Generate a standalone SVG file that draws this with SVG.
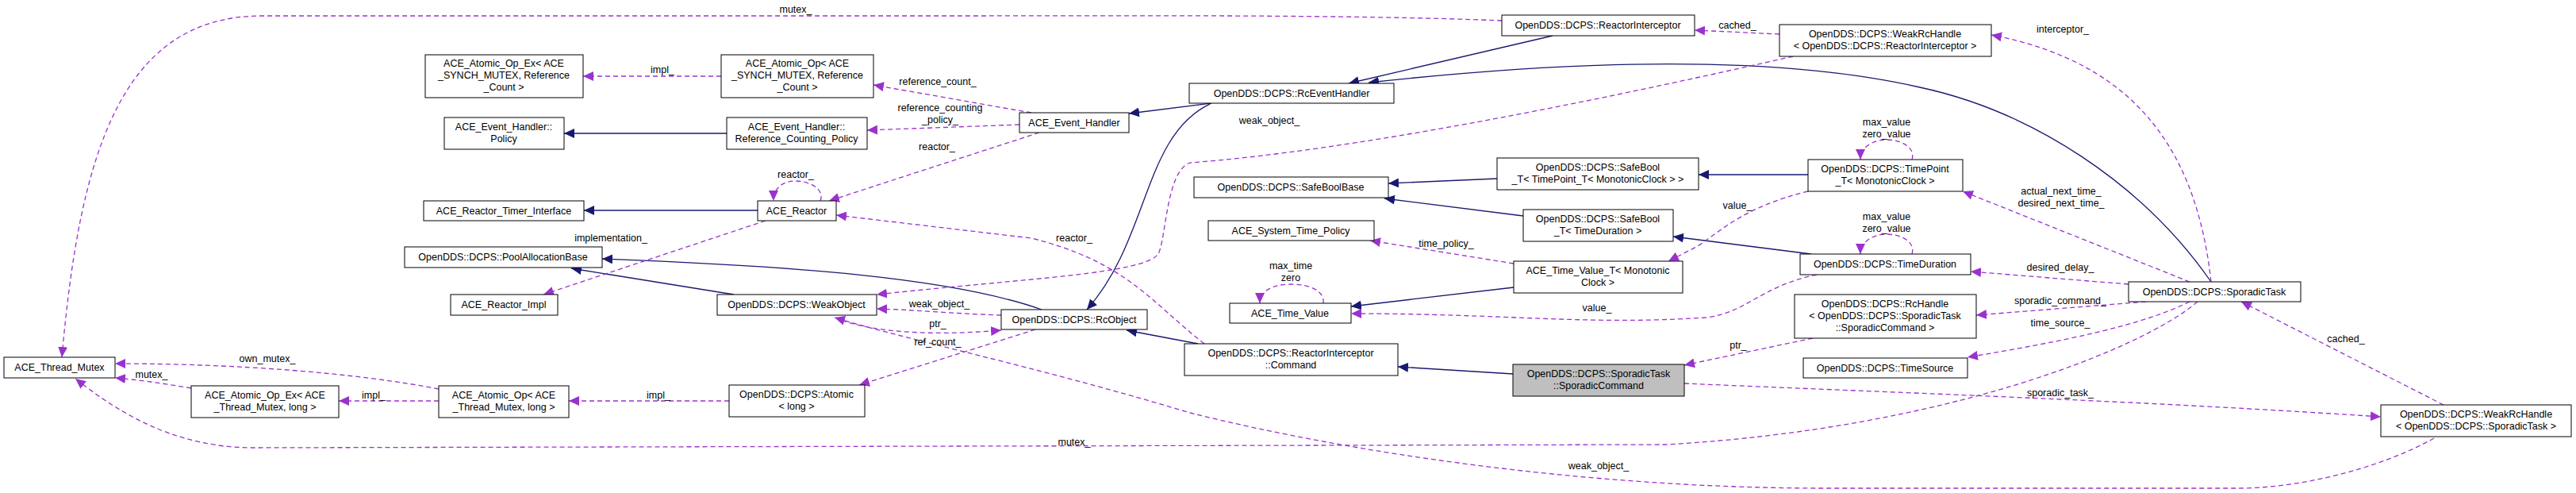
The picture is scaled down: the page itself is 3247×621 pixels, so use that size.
<svg xmlns="http://www.w3.org/2000/svg" width="3247" height="621" viewBox="0 0 3247 621">
<style>
text{font-family:"Liberation Sans",Arial,sans-serif;font-size:12.5px;fill:#000}
.n rect{fill:#fff;stroke:#000;stroke-width:1}
.n text{text-anchor:middle}
.g rect{fill:#bfbfbf}
.b{fill:none;stroke:#191970;stroke-width:1.3}
.p{fill:none;stroke:#9a32cd;stroke-width:1.3;stroke-dasharray:6,4}
.l{text-anchor:middle}
</style>
<defs>
<marker id="ab" markerUnits="userSpaceOnUse" markerWidth="14" markerHeight="12" refX="13" refY="6" orient="auto"><path d="M0,0 L13,6 L0,12 z" fill="#191970"/></marker>
<marker id="ap" markerUnits="userSpaceOnUse" markerWidth="14" markerHeight="12" refX="13" refY="6" orient="auto"><path d="M0,0 L13,6 L0,12 z" fill="#9a32cd"/></marker>
</defs>
<g id="connectors">
<g marker-end="url(#ab)">
<path class="b" d="M916,168 L711,168"/>
<path class="b" d="M955,265 L736,265"/>
<path class="b" d="M1527,130 L1423,143"/>
<path class="b" d="M1527,130 C1440,170 1450,300 1370,390"/>
<path class="b" d="M1957,45 L1700,105"/>
<path class="b" d="M2787,355 C2700,230 2560,140 2420,110 C2200,60 1900,85 1725,104"/>
<path class="b" d="M925,371 L720,338"/>
<path class="b" d="M1313,390 C1200,350 1000,335 759,326"/>
<path class="b" d="M1510,433 L1420,416"/>
<path class="b" d="M1887,225 L1750,231"/>
<path class="b" d="M1920,272 L1745,250"/>
<path class="b" d="M2279,220 L2141,220"/>
<path class="b" d="M2283,320 L2109,298"/>
<path class="b" d="M1908,362 L1703,386"/>
<path class="b" d="M1907,471 L1762,462"/>
</g>
<g marker-end="url(#ap)">
<path class="p" d="M1893,26 C1700,18 1400,20 1200,20 L330,20 C150,20 100,200 78,450"/>
<path class="p" d="M909,96 L735,96"/>
<path class="p" d="M1300,142 L1101,107"/>
<path class="p" d="M1285,157 L1093,164"/>
<path class="p" d="M1310,167 L1045,253"/>
<path class="p" d="M1034,253 C1040,238 1020,228 1003,228 C985,228 975,238 975,253"/>
<path class="p" d="M965,278 L685,371"/>
<path class="p" d="M1518,433 C1450,380 1420,330 1300,300 L1054,271"/>
<path class="p" d="M2260,71 C2000,130 1700,190 1500,205 C1470,215 1470,300 1460,320 C1440,345 1300,350 1105,371"/>
<path class="p" d="M1262,397 C1200,395 1150,390 1105,389"/>
<path class="p" d="M1052,400 C1100,420 1180,423 1262,416"/>
<path class="p" d="M1305,415 L1083,485"/>
<path class="p" d="M919,505 L717,505"/>
<path class="p" d="M553,505 L427,505"/>
<path class="p" d="M553,490 C450,470 300,458 145,458"/>
<path class="p" d="M241,489 C200,482 170,478 145,476"/>
<path class="p" d="M2770,380 C2700,440 2450,540 2100,560 L320,564 C220,564 150,520 95,477"/>
<path class="p" d="M2243,43 L2136,38"/>
<path class="p" d="M2787,355 C2770,200 2700,80 2510,44"/>
<path class="p" d="M2760,355 L2474,241"/>
<path class="p" d="M2410,201 C2415,185 2395,176 2378,176 C2360,176 2345,186 2345,201"/>
<path class="p" d="M2410,320 C2415,304 2395,295 2378,295 C2360,295 2345,305 2345,320"/>
<path class="p" d="M1668,382 C1670,366 1650,358 1627,358 C1605,358 1588,366 1588,382"/>
<path class="p" d="M2279,241 C2200,260 2170,290 2140,310 L2103,329"/>
<path class="p" d="M2290,346 C2220,360 2200,395 2150,400 C2000,410 1900,395 1703,395"/>
<path class="p" d="M1908,332 L1727,303"/>
<path class="p" d="M2683,358 L2484,342"/>
<path class="p" d="M2705,380 L2491,397"/>
<path class="p" d="M2760,380 C2700,410 2600,430 2480,450"/>
<path class="p" d="M2123,483 C2400,495 2700,505 3001,525"/>
<path class="p" d="M3080,510 L2825,380"/>
<path class="p" d="M2285,426 L2123,460"/>
<path class="p" d="M3068,552 C3000,590 2900,615 2820,615 L2300,615 C2000,615 1700,570 1500,520 C1300,460 1150,430 1052,400"/>
</g>
<text class="l" x="1003" y="16">mutex_</text>
<text class="l" x="835" y="92">impl_</text>
<text class="l" x="1182" y="107">reference_count_</text>
<text class="l" x="1185" y="140">reference_counting</text>
<text class="l" x="1185" y="155">_policy_</text>
<text class="l" x="1181" y="189">reactor_</text>
<text class="l" x="1003" y="224">reactor_</text>
<text class="l" x="770" y="304">implementation_</text>
<text class="l" x="1354" y="304">reactor_</text>
<text class="l" x="1600" y="156">weak_object_</text>
<text class="l" x="1184" y="387">weak_object_</text>
<text class="l" x="1182" y="412">ptr_</text>
<text class="l" x="1182" y="435">ref_count_</text>
<text class="l" x="830" y="502">impl_</text>
<text class="l" x="471" y="502">impl_</text>
<text class="l" x="337" y="456">own_mutex_</text>
<text class="l" x="191" y="476">mutex_</text>
<text class="l" x="1354" y="561">mutex_</text>
<text class="l" x="1627" y="339">max_time</text>
<text class="l" x="1627" y="354">zero</text>
<text class="l" x="2190" y="36">cached_</text>
<text class="l" x="2600" y="41">interceptor_</text>
<text class="l" x="2378" y="158">max_value</text>
<text class="l" x="2378" y="173">zero_value</text>
<text class="l" x="2378" y="277">max_value</text>
<text class="l" x="2378" y="292">zero_value</text>
<text class="l" x="2190" y="263">value_</text>
<text class="l" x="1823" y="311">time_policy_</text>
<text class="l" x="2013" y="392">value_</text>
<text class="l" x="2598" y="245">actual_next_time_</text>
<text class="l" x="2598" y="260">desired_next_time_</text>
<text class="l" x="2597" y="341">desired_delay_</text>
<text class="l" x="2597" y="383">sporadic_command_</text>
<text class="l" x="2597" y="411">time_source_</text>
<text class="l" x="2191" y="439">ptr_</text>
<text class="l" x="2597" y="499">sporadic_task_</text>
<text class="l" x="2957" y="431">cached_</text>
<text class="l" x="2015" y="591">weak_object_</text>
</g>
<g id="n1" class="n"><rect x="536" y="69" width="199" height="54"/><text x="635" y="84">ACE_Atomic_Op_Ex&lt; ACE</text><text x="635" y="99">_SYNCH_MUTEX, Reference</text><text x="635" y="114">_Count &gt;</text></g>
<g id="n2" class="n"><rect x="560" y="148" width="151" height="40"/><text x="635" y="164">ACE_Event_Handler::</text><text x="635" y="179">Policy</text></g>
<g id="n3" class="n"><rect x="534" y="253" width="202" height="25"/><text x="635" y="270">ACE_Reactor_Timer_Interface</text></g>
<g id="n4" class="n"><rect x="510" y="311" width="249" height="26"/><text x="634" y="328">OpenDDS::DCPS::PoolAllocationBase</text></g>
<g id="n5" class="n"><rect x="568" y="371" width="135" height="26"/><text x="635" y="388">ACE_Reactor_Impl</text></g>
<g id="n6" class="n"><rect x="5" y="450" width="140" height="26"/><text x="75" y="467">ACE_Thread_Mutex</text></g>
<g id="n7" class="n"><rect x="241" y="486" width="186" height="40"/><text x="334" y="502">ACE_Atomic_Op_Ex&lt; ACE</text><text x="334" y="517">_Thread_Mutex, long &gt;</text></g>
<g id="n8" class="n"><rect x="553" y="486" width="164" height="40"/><text x="635" y="502">ACE_Atomic_Op&lt; ACE</text><text x="635" y="517">_Thread_Mutex, long &gt;</text></g>
<g id="n9" class="n"><rect x="909" y="69" width="192" height="54"/><text x="1005" y="84">ACE_Atomic_Op&lt; ACE</text><text x="1005" y="99">_SYNCH_MUTEX, Reference</text><text x="1005" y="114">_Count &gt;</text></g>
<g id="n10" class="n"><rect x="916" y="148" width="177" height="40"/><text x="1004" y="164">ACE_Event_Handler::</text><text x="1004" y="179">Reference_Counting_Policy</text></g>
<g id="n11" class="n"><rect x="955" y="253" width="99" height="25"/><text x="1004" y="270">ACE_Reactor</text></g>
<g id="n12" class="n"><rect x="904" y="371" width="201" height="26"/><text x="1004" y="388">OpenDDS::DCPS::WeakObject</text></g>
<g id="n13" class="n"><rect x="919" y="485" width="171" height="40"/><text x="1004" y="501">OpenDDS::DCPS::Atomic</text><text x="1004" y="516">&lt; long &gt;</text></g>
<g id="n14" class="n"><rect x="1285" y="142" width="138" height="25"/><text x="1354" y="159">ACE_Event_Handler</text></g>
<g id="n15" class="n"><rect x="1262" y="390" width="184" height="25"/><text x="1354" y="407">OpenDDS::DCPS::RcObject</text></g>
<g id="n16" class="n"><rect x="1499" y="105" width="258" height="25"/><text x="1628" y="122">OpenDDS::DCPS::RcEventHandler</text></g>
<g id="n17" class="n"><rect x="1505" y="223" width="245" height="26"/><text x="1627" y="240">OpenDDS::DCPS::SafeBoolBase</text></g>
<g id="n18" class="n"><rect x="1523" y="278" width="209" height="25"/><text x="1627" y="295">ACE_System_Time_Policy</text></g>
<g id="n19" class="n"><rect x="1550" y="382" width="153" height="25"/><text x="1626" y="399">ACE_Time_Value</text></g>
<g id="n20" class="n"><rect x="1493" y="433" width="269" height="40"/><text x="1627" y="449">OpenDDS::DCPS::ReactorInterceptor</text><text x="1627" y="464">::Command</text></g>
<g id="n21" class="n"><rect x="1893" y="19" width="243" height="26"/><text x="2014" y="36">OpenDDS::DCPS::ReactorInterceptor</text></g>
<g id="n22" class="n"><rect x="1887" y="199" width="254" height="40"/><text x="2014" y="215">OpenDDS::DCPS::SafeBool</text><text x="2014" y="230">_T&lt; TimePoint_T&lt; MonotonicClock &gt; &gt;</text></g>
<g id="n23" class="n"><rect x="1920" y="264" width="189" height="40"/><text x="2014" y="280">OpenDDS::DCPS::SafeBool</text><text x="2014" y="295">_T&lt; TimeDuration &gt;</text></g>
<g id="n24" class="n"><rect x="1908" y="329" width="213" height="40"/><text x="2014" y="345">ACE_Time_Value_T&lt; Monotonic</text><text x="2014" y="360">Clock &gt;</text></g>
<g id="n25" class="n g"><rect x="1907" y="459" width="216" height="40"/><text x="2015" y="475">OpenDDS::DCPS::SporadicTask</text><text x="2015" y="490">::SporadicCommand</text></g>
<g id="n26" class="n"><rect x="2243" y="31" width="267" height="40"/><text x="2376" y="47">OpenDDS::DCPS::WeakRcHandle</text><text x="2376" y="62">&lt; OpenDDS::DCPS::ReactorInterceptor &gt;</text></g>
<g id="n27" class="n"><rect x="2279" y="201" width="195" height="40"/><text x="2376" y="217">OpenDDS::DCPS::TimePoint</text><text x="2376" y="232">_T&lt; MonotonicClock &gt;</text></g>
<g id="n28" class="n"><rect x="2269" y="320" width="215" height="26"/><text x="2376" y="337">OpenDDS::DCPS::TimeDuration</text></g>
<g id="n29" class="n"><rect x="2262" y="371" width="229" height="55"/><text x="2376" y="387">OpenDDS::DCPS::RcHandle</text><text x="2376" y="402">&lt; OpenDDS::DCPS::SporadicTask</text><text x="2376" y="417">::SporadicCommand &gt;</text></g>
<g id="n30" class="n"><rect x="2273" y="451" width="207" height="25"/><text x="2376" y="468">OpenDDS::DCPS::TimeSource</text></g>
<g id="n31" class="n"><rect x="2683" y="355" width="217" height="25"/><text x="2791" y="372">OpenDDS::DCPS::SporadicTask</text></g>
<g id="n32" class="n"><rect x="3001" y="510" width="240" height="40"/><text x="3121" y="526">OpenDDS::DCPS::WeakRcHandle</text><text x="3121" y="541">&lt; OpenDDS::DCPS::SporadicTask &gt;</text></g>
</svg>
